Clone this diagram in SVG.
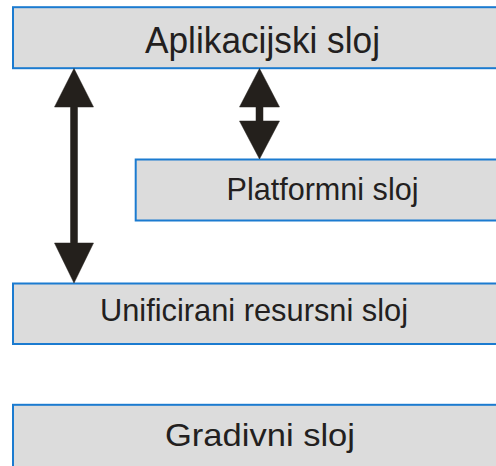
<svg xmlns="http://www.w3.org/2000/svg" width="496" height="466" viewBox="0 0 496 466">
  <style>
    .box { fill: #dcdcdc; stroke: #1b7bd0; stroke-width: 2; }
    .lbl { font-family: "Liberation Sans", Arial, sans-serif; fill: #231f20; text-anchor: middle; }
    .arr { fill: #24201c; stroke: #24201c; stroke-width: 0.5; stroke-linejoin: miter; }
  </style>
  <rect width="496" height="466" fill="#ffffff"/>
  <g id="aplikacijski">
    <rect class="box" x="13" y="7.2" width="500" height="61"/>
    <text class="lbl" x="262.5" y="52.5" font-size="37" textLength="235" lengthAdjust="spacingAndGlyphs">Aplikacijski sloj</text>
  </g>
  <g id="platformni">
    <rect class="box" x="135.7" y="159.5" width="380" height="61"/>
    <text class="lbl" x="322.5" y="200" font-size="31.5" textLength="192" lengthAdjust="spacingAndGlyphs">Platformni sloj</text>
  </g>
  <g id="unificirani">
    <rect class="box" x="13" y="283.5" width="500" height="60.5"/>
    <text class="lbl" x="254" y="321" font-size="31.5" textLength="308" lengthAdjust="spacingAndGlyphs">Unificirani resursni sloj</text>
  </g>
  <g id="gradivni">
    <rect class="box" x="13" y="404.8" width="500" height="80"/>
    <text class="lbl" x="260" y="446" font-size="31.5" textLength="190" lengthAdjust="spacingAndGlyphs">Gradivni sloj</text>
  </g>
  <g id="connectors">
    <polygon class="arr" points="74,68.5 93.5,107 77.5,107 77.5,243 93.5,243 74,283 54.5,243 70.5,243 70.5,107 54.5,107"/>
    <polygon class="arr" points="259.5,68.5 279.5,107 263,107 263,121 279.5,121 259.5,159 239.5,121 256,121 256,107 239.5,107"/>
  </g>
</svg>
